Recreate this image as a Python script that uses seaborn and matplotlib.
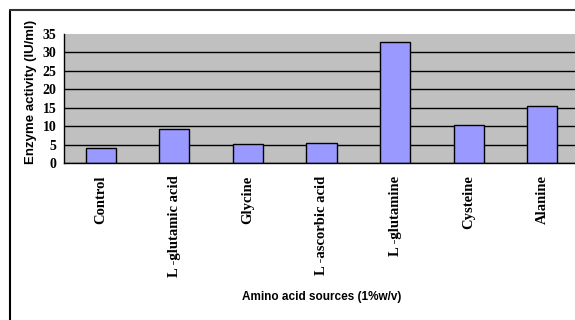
import numpy as np
import pandas as pd
import seaborn as sns
import matplotlib.pyplot as plt
from matplotlib.lines import Line2D

# data
sources = ["Control", "L -glutamic acid", "Glycine", "L -ascorbic acid",
           "L -glutamine", "Cysteine", "Alanine"]
activity = [4.1, 9.2, 5.1, 5.3, 32.8, 10.3, 15.4]
y_ticks = [0, 5, 10, 15, 20, 25, 30, 35]

df = pd.DataFrame({"source": sources, "activity": activity})

sns.set_style("white")
plt.rcParams["font.family"] = ["Liberation Serif", "DejaVu Serif"]
plt.rcParams.update({"text.color": "black", "axes.labelcolor": "black",
                     "xtick.color": "black", "ytick.color": "black"})

fig = plt.figure(figsize=(5.75, 3.2), dpi=100)
ax = fig.add_axes([64 / 575, 1 - 163 / 320, 515 / 575, 129 / 320])

sns.barplot(data=df, x="source", y="activity", color="#9999FF",
            saturation=1, edgecolor="black", linewidth=1, width=0.41, ax=ax)

ax.set_facecolor("#C0C0C0")
ax.set_xlim(-0.5, len(sources) - 0.5)
ax.set_ylim(0, 35)
ax.set_yticks(y_ticks)
ax.yaxis.grid(True, color="black", linewidth=1)
ax.set_axisbelow(True)
ax.yaxis.get_gridlines()[-1].set_visible(False)

for s in ["top", "right"]:
    ax.spines[s].set_visible(False)
for s in ["left", "bottom"]:
    ax.spines[s].set_color("black")
    ax.spines[s].set_linewidth(1)

# category boundary ticks
ax.set_xticks(np.arange(-0.5, len(sources)), minor=True)
ax.tick_params(axis="x", which="minor", length=3.5, width=1, color="black", direction="out")
ax.tick_params(axis="x", which="major", length=0, pad=9)
ax.tick_params(axis="y", length=3.5, width=1, color="black", direction="out", pad=2)

ax.set_xticks(range(len(sources)))
ax.set_xticklabels(sources, rotation=90, fontsize=10.5, fontweight="bold", va="top")
for lbl in ax.get_yticklabels():
    lbl.set_fontsize(10)
    lbl.set_fontweight("bold")

ax.set_ylabel("Enzyme activity (IU/ml)", family=["Liberation Sans", "DejaVu Sans"],
              fontsize=9.5, fontweight="bold")
ax.yaxis.set_label_coords(-0.064, 0.55)
ax.yaxis.label.set_va("center")

ax.set_xlabel("Amino acid sources (1%w/v)", family=["Liberation Sans", "DejaVu Sans"],
              fontsize=8.5, fontweight="bold")
ax.xaxis.set_label_coords(0.5, (163 - 297) / 129)
ax.xaxis.label.set_va("center")

# outer chart frame (left and top edges)
fig.add_artist(Line2D([10 / 575, 10 / 575], [0, 1 - 10 / 320], color="black", lw=1.5))
fig.add_artist(Line2D([10 / 575, 1], [1 - 10 / 320, 1 - 10 / 320], color="#333333", lw=1.5))

fig.savefig("out.png", dpi=100)
